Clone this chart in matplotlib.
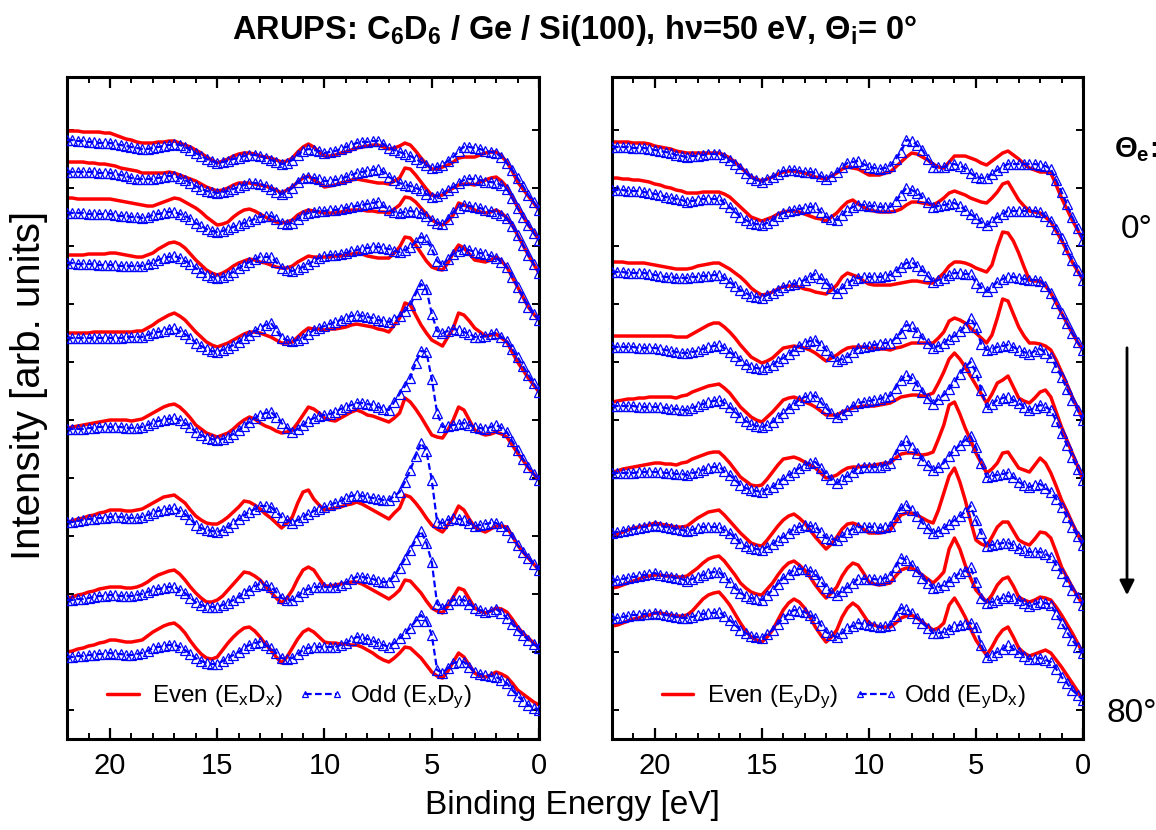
import numpy as np
import matplotlib
matplotlib.use("Agg")
import matplotlib.pyplot as plt
from matplotlib.ticker import MultipleLocator, FixedLocator

plt.rcParams["font.family"] = ["Liberation Sans", "DejaVu Sans"]
plt.rcParams["mathtext.fontset"] = "custom"
plt.rcParams["mathtext.rm"] = "Liberation Sans"
plt.rcParams["mathtext.it"] = "Liberation Sans:italic"
plt.rcParams["mathtext.bf"] = "Liberation Sans:bold"

# Binding energy grid (eV), 0.25 eV steps
binding_energy = [22.0, 21.75, 21.5, 21.25, 21.0, 20.75, 20.5, 20.25,
                  20.0, 19.75, 19.5, 19.25, 19.0, 18.75, 18.5, 18.25,
                  18.0, 17.75, 17.5, 17.25, 17.0, 16.75, 16.5, 16.25,
                  16.0, 15.75, 15.5, 15.25, 15.0, 14.75, 14.5, 14.25,
                  14.0, 13.75, 13.5, 13.25, 13.0, 12.75, 12.5, 12.25,
                  12.0, 11.75, 11.5, 11.25, 11.0, 10.75, 10.5, 10.25,
                  10.0, 9.75, 9.5, 9.25, 9.0, 8.75, 8.5, 8.25,
                  8.0, 7.75, 7.5, 7.25, 7.0, 6.75, 6.5, 6.25,
                  6.0, 5.75, 5.5, 5.25, 5.0, 4.75, 4.5, 4.25,
                  4.0, 3.75, 3.5, 3.25, 3.0, 2.75, 2.5, 2.25,
                  2.0, 1.75, 1.5, 1.25, 1.0, 0.75, 0.5, 0.25,
                  0.0]

# Emission angles, top spectrum to bottom spectrum
emission_angles = [0, 10, 20, 30, 40, 50, 60, 70, 80]

# ---- E_x polarisation: even (ExDx) and odd (ExDy), stacked intensities [arb. units]
exdx_00 = [608,608,608,607,607,607,607,606, 606,604,602,600,599,597,596,596,
           596,597,597,598,598,596,594,592, 589,586,582,579,576,578,580,583,
           585,586,586,585,583,582,581,579, 577,578,581,587,592,595,592,587,
           583,583,584,586,587,589,591,592, 593,594,594,592,590,591,593,596,
           594,588,581,575,570,570,572,574, 577,581,582,582,582,584,586,587,
           587,583,577,568,557,550,543,536, 529]
exdy_00 = [599,599,598,598,597,597,596,596, 596,595,594,593,592,591,590,590,
           591,592,593,594,595,594,592,589, 586,583,580,578,576,577,578,580,
           581,583,584,584,583,581,579,577, 575,576,579,584,588,590,589,588,
           586,587,588,590,592,594,596,597, 597,598,598,595,591,589,587,585,
           583,580,577,574,571,572,574,578, 582,588,592,592,591,590,588,587,
           586,582,576,569,561,553,544,537, 529]
exdx_10 = [577,577,577,577,576,576,575,575, 574,573,571,570,569,568,566,566,
           566,566,566,567,566,564,562,560, 558,555,552,550,548,549,551,554,
           556,556,556,555,554,553,551,549, 546,549,552,557,561,563,559,556,
           552,553,554,556,557,559,560,559, 558,557,556,556,555,558,561,571,
           570,564,557,550,544,543,544,548, 551,554,555,555,554,557,559,561,
           562,558,552,542,532,523,514,507, 499]
exdy_10 = [567,567,567,567,567,567,566,566, 566,565,564,563,561,560,560,560,
           560,561,562,563,563,561,559,556, 553,550,548,547,546,547,548,550,
           552,554,556,556,555,553,550,547, 545,547,551,557,561,562,561,560,
           558,558,559,560,562,564,566,567, 568,569,570,567,562,559,556,554,
           553,551,549,545,542,543,546,549, 552,556,559,560,560,559,557,557,
           556,554,550,541,531,522,514,506, 499]
exdx_20 = [541,541,540,540,540,540,540,540, 540,539,538,537,536,535,534,533,
           533,535,537,539,541,540,537,534, 531,527,522,518,514,515,517,522,
           526,529,530,528,525,522,519,517, 516,517,519,524,527,529,528,527,
           526,526,526,527,528,529,529,529, 528,528,527,527,526,530,534,542,
           541,537,531,525,519,516,514,518, 524,536,534,532,529,527,526,527,
           529,526,521,514,504,494,484,475, 466]
exdy_20 = [526,526,526,526,525,525,525,525, 525,524,523,523,522,522,521,522,
           524,525,526,527,527,525,523,520, 516,513,510,508,507,508,510,512,
           514,516,518,520,522,523,523,520, 516,515,516,520,524,526,527,528,
           528,529,529,530,531,532,533,534, 535,536,537,533,529,527,526,527,
           528,527,526,523,519,516,515,520, 527,531,534,533,532,531,529,528,
           526,524,521,513,504,494,484,475, 466]
exdx_30 = [484,484,484,484,485,485,485,485, 486,486,485,484,483,482,482,484,
           486,490,493,496,497,495,491,485, 479,474,469,466,464,466,469,473,
           476,478,480,479,477,476,474,472, 471,471,473,477,480,483,482,482,
           482,482,483,483,484,485,486,485, 483,482,481,481,481,486,492,502,
           501,494,486,478,472,470,469,476, 486,494,491,485,479,478,477,479,
           482,478,472,462,452,442,432,425, 419]
exdy_30 = [476,476,475,475,475,475,474,474, 474,474,473,473,473,473,473,475,
           476,479,481,482,483,481,478,475, 471,467,464,462,461,462,464,467,
           471,474,477,480,482,482,482,477, 471,469,468,470,472,475,478,481,
           483,484,484,485,486,488,489,490, 491,492,492,491,490,488,487,489,
           492,497,502,500,490,478,474,480, 485,488,490,489,487,486,485,483,
           481,477,472,462,452,442,432,425, 419]
exdx_40 = [406,406,406,406,406,407,407,407, 407,407,407,407,407,408,408,411,
           414,418,421,424,426,423,419,413, 407,402,397,394,392,394,396,399,
           402,405,407,407,406,404,402,399, 396,396,397,402,407,411,410,410,
           409,410,410,411,412,414,415,414, 413,412,410,409,407,414,421,436,
           434,424,414,406,399,396,393,402, 411,426,424,418,411,407,403,404,
           405,401,397,387,377,369,361,354, 347]
exdy_40 = [401,401,401,401,401,401,401,401, 401,401,401,402,402,402,402,404,
           406,407,408,410,411,408,405,401, 396,393,390,388,387,389,391,394,
           397,401,404,408,411,414,416,409, 401,399,398,399,401,405,409,411,
           413,415,417,419,421,423,424,423, 422,421,419,418,417,420,423,428,
           434,445,455,450,425,408,406,408, 410,409,407,405,402,402,403,405,
           406,402,398,390,382,373,364,356, 347]
exdx_50 = [311,312,313,314,315,316,317,318, 319,319,319,319,318,319,320,323,
           326,329,332,334,335,332,327,321, 314,310,306,304,302,304,306,310,
           315,319,322,320,316,313,311,308, 306,307,309,316,324,332,330,326,
           321,319,318,321,324,327,329,327, 324,323,321,319,317,321,326,341,
           337,330,322,313,304,302,301,309, 319,332,329,319,309,306,304,305,
           307,305,302,294,286,279,271,265, 259]
exdy_50 = [310,310,310,310,311,311,312,312, 312,312,312,311,311,311,312,314,
           316,318,319,320,321,319,316,312, 307,304,301,300,299,300,302,305,
           309,313,317,321,324,326,327,322, 316,311,307,310,314,318,321,323,
           324,325,327,330,332,334,336,336, 335,334,332,330,329,337,345,353,
           361,376,388,387,360,326,312,313, 314,315,316,314,312,311,310,312,
           314,311,307,298,289,280,272,265, 259]
exdx_60 = [217,218,220,221,223,224,226,227, 229,229,229,228,228,229,230,233,
           236,239,242,243,244,240,236,229, 223,219,216,215,215,218,222,227,
           232,238,237,234,230,225,221,216, 211,216,222,236,247,249,240,234,
           229,230,231,232,234,235,237,235, 232,229,226,223,220,226,231,244,
           242,236,229,221,214,210,207,214, 222,233,229,220,212,209,207,210,
           213,213,212,203,194,187,181,175, 169]
exdy_60 = [217,217,218,219,220,220,221,221, 222,222,222,221,221,221,222,224,
           226,228,229,230,231,228,225,220, 214,211,209,208,207,209,212,216,
           220,224,227,230,233,233,232,227, 222,219,216,219,222,225,228,230,
           232,234,236,238,241,243,244,243, 242,241,240,239,239,243,247,257,
           269,283,296,288,259,217,216,219, 221,220,219,216,213,214,215,216,
           216,213,209,202,194,187,181,175, 169]
exdx_70 = [141,142,144,145,147,148,150,151, 152,152,152,151,151,152,154,157,
           161,164,166,168,169,165,159,152, 146,141,137,137,139,143,149,155,
           161,167,166,163,159,153,147,141, 136,141,149,160,169,172,169,161,
           153,153,154,155,156,157,157,155, 152,149,146,143,140,144,149,159,
           158,152,146,138,131,128,126,133, 142,151,149,140,131,128,126,128,
           131,130,127,120,112,106,101,96, 91]
exdy_70 = [139,139,140,140,141,142,143,143, 144,144,143,143,143,144,145,147,
           149,150,151,152,152,149,146,141, 137,134,132,132,132,134,136,139,
           142,146,149,153,155,154,152,147, 141,139,139,143,147,150,152,152,
           152,152,152,154,156,160,162,162, 161,160,158,157,157,163,171,180,
           189,199,208,196,177,135,131,135, 139,139,139,135,131,129,127,128,
           130,126,121,115,109,104,99,95, 91]
exdx_80 = [87,88,90,91,93,94,96,97, 99,99,98,97,97,98,99,103,
           107,110,113,115,116,112,106,98, 91,85,81,80,82,89,96,102,
           107,111,112,108,102,95,89,82, 76,82,91,100,107,110,107,102,
           97,96,96,95,95,94,94,92, 89,86,82,79,77,81,86,92,
           91,86,81,74,67,63,61,68, 77,86,82,74,66,63,62,64,
           67,65,62,56,49,45,41,37, 34]
exdy_80 = [82,82,83,83,84,84,85,85, 86,85,85,84,84,85,86,88,
           91,92,93,94,94,92,89,85, 81,78,76,75,75,78,81,84,
           87,91,94,96,97,94,91,86, 81,80,81,85,89,91,92,92,
           92,92,92,94,96,99,102,101, 100,98,96,94,92,96,101,106,
           111,118,124,118,104,69,66,71, 76,77,77,72,67,65,64,63,
           62,59,56,49,43,38,34,31, 29]

# ---- E_y polarisation: even (EyDy) and odd (EyDx), stacked intensities [arb. units]
eydy_00 = [597,597,597,597,596,596,596,595, 593,592,591,590,588,587,586,586,
           586,586,586,586,586,584,581,577, 572,567,562,560,558,560,562,565,
           567,568,568,567,566,564,562,561, 560,563,566,570,572,571,570,567,
           564,564,564,566,567,572,577,582, 586,585,582,579,575,572,571,577,
           583,583,583,581,579,576,574,578, 582,586,588,584,580,575,571,569,
           567,567,566,554,541,530,519,509, 499]
eydx_00 = [592,592,592,592,591,591,591,590, 589,588,587,586,584,583,582,583,
           583,584,585,585,585,582,579,575, 571,566,561,559,557,560,562,565,
           568,569,569,568,567,567,566,563, 560,563,567,572,576,577,578,575,
           572,571,570,571,573,580,587,599, 598,594,589,580,572,572,572,574,
           575,573,571,566,562,561,561,565, 569,572,575,575,575,575,575,575,
           574,573,570,559,547,535,522,511, 499]
eydy_10 = [561,561,560,560,559,559,558,557, 555,554,552,551,549,548,546,546,
           546,547,547,547,547,545,542,537, 532,527,522,520,518,520,522,525,
           527,528,528,527,525,523,521,520, 518,522,526,532,537,539,535,532,
           529,528,527,527,527,528,530,534, 537,537,536,535,534,537,541,546,
           548,546,544,541,539,537,536,541, 547,555,557,548,539,533,528,527,
           526,522,517,508,499,488,477,468, 459]
eydx_10 = [549,549,549,548,548,548,547,546, 545,544,542,541,540,539,537,538,
           539,540,540,540,540,536,532,527, 522,519,516,515,514,516,519,523,
           526,528,529,530,531,532,532,527, 522,520,519,524,529,532,534,534,
           533,533,532,532,532,538,544,551, 549,546,542,537,532,533,534,535,
           536,533,529,525,521,517,514,518, 522,525,528,528,528,528,528,528,
           527,523,518,510,501,490,479,469, 459]
eydy_20 = [477,477,477,476,476,476,476,475, 474,473,472,471,470,470,470,471,
           473,474,475,476,476,473,470,466, 462,457,451,447,444,445,447,450,
           452,453,453,452,450,449,447,446, 445,449,454,462,466,464,462,458,
           455,454,454,454,454,455,456,457, 458,458,457,456,456,461,466,473,
           477,477,476,474,471,469,467,474, 492,507,506,498,486,472,459,458,
           458,453,446,436,426,416,406,397, 389]
eydx_20 = [467,467,467,466,466,466,466,465, 464,463,462,462,461,461,461,462,
           462,463,463,464,464,461,457,453, 449,446,443,442,441,444,446,449,
           452,454,455,457,459,462,465,461, 456,451,446,451,456,459,461,462,
           462,462,462,463,464,468,472,476, 477,473,469,463,457,459,461,464,
           466,466,465,465,456,452,448,452, 457,460,462,462,461,460,459,459,
           458,453,446,436,426,416,406,397, 389]
eydy_30 = [403,403,403,403,403,403,403,403, 403,403,403,403,402,402,402,405,
           408,411,414,416,416,412,407,401, 394,388,382,379,376,378,381,386,
           391,392,393,392,391,389,386,382, 378,381,384,388,391,392,392,392,
           391,391,390,390,389,391,392,394, 396,396,396,396,396,401,407,418,
           421,419,416,411,406,401,396,404, 421,440,438,425,412,403,396,396,
           395,393,389,379,367,355,342,331, 319]
eydx_30 = [392,392,392,392,392,391,391,391, 391,390,389,388,387,386,386,387,
           388,390,392,393,394,391,387,383, 379,375,372,371,370,372,374,378,
           381,385,389,393,396,398,399,394, 389,383,378,380,382,387,391,392,
           393,394,395,396,396,401,406,414, 413,407,401,396,391,393,396,400,
           403,408,412,421,412,395,389,390, 392,393,394,392,389,387,385,388,
           390,386,382,372,362,350,339,329, 319]
eydy_40 = [337,338,339,340,340,341,341,342, 342,342,342,342,341,343,344,347,
           349,351,353,354,355,351,346,339, 332,327,322,319,317,322,327,333,
           339,341,342,340,337,335,332,328, 324,324,324,327,329,331,332,333,
           333,333,334,335,336,339,342,343, 344,344,343,344,346,356,367,380,
           386,380,372,363,354,345,336,345, 356,359,363,352,341,338,336,341,
           347,349,342,327,312,299,286,273, 259]
eydx_40 = [333,333,333,333,333,332,332,332, 332,332,331,330,330,329,329,331,
           333,335,337,338,339,336,332,327, 322,318,315,313,312,314,317,322,
           326,331,335,339,342,343,343,337, 331,326,322,325,329,333,336,337,
           338,339,340,342,343,351,359,364, 361,354,347,341,335,340,344,350,
           357,365,372,377,367,349,332,335, 339,341,342,339,336,332,329,331,
           334,332,329,318,306,294,282,270, 259]
eydy_50 = [267,268,270,271,272,273,274,275, 276,276,275,275,274,276,277,280,
           282,284,286,287,287,282,276,269, 262,258,254,253,254,260,267,274,
           280,281,282,280,277,274,271,266, 261,262,264,268,271,272,272,273,
           273,274,275,276,276,281,285,286, 286,285,284,285,287,300,314,334,
           337,325,311,299,286,276,266,270, 276,286,287,279,271,269,267,274,
           281,276,266,253,239,228,216,205, 194]
eydx_50 = [266,266,266,266,266,267,267,267, 267,267,266,266,265,265,264,266,
           267,269,271,272,272,268,264,259, 254,251,249,248,247,250,252,256,
           260,264,267,271,274,276,277,271, 264,260,256,260,263,267,271,272,
           272,272,272,274,276,285,294,299, 292,286,279,274,269,272,276,283,
           289,294,299,303,292,276,262,263, 264,265,266,262,257,254,252,254,
           255,251,247,240,232,222,212,203, 194]
eydy_60 = [204,205,207,209,211,212,213,214, 216,215,214,213,212,212,213,217,
           221,224,227,228,229,224,218,212, 206,201,196,194,193,199,206,213,
           219,223,225,221,216,209,202,196, 190,195,202,210,215,216,214,210,
           206,206,206,207,209,217,224,226, 226,224,221,218,216,229,246,263,
           271,257,239,218,199,195,193,202, 212,217,217,208,199,196,194,200,
           207,206,201,187,172,162,152,143, 134]
eydx_60 = [206,207,208,209,210,211,212,213, 214,213,212,211,210,209,208,209,
           211,212,212,212,212,209,206,201, 196,193,191,190,189,192,195,199,
           202,206,210,212,214,213,212,207, 201,200,199,203,207,210,212,212,
           212,212,211,212,213,222,231,234, 229,223,216,211,206,208,211,215,
           219,223,227,233,219,206,193,194, 195,196,196,194,191,189,187,187,
           187,185,182,174,166,158,149,142, 134]
eydy_70 = [151,152,154,156,158,160,162,163, 164,164,163,163,162,162,163,167,
           171,176,180,182,183,178,171,164, 156,151,147,145,144,150,156,164,
           171,176,178,174,169,162,154,147, 141,146,152,163,171,176,174,166,
           157,155,154,155,156,163,169,171, 171,168,164,160,156,161,167,190,
           201,190,174,161,149,143,137,144, 154,160,162,153,142,139,137,139,
           142,141,139,132,124,115,106,96, 86]
eydx_70 = [159,159,160,161,162,163,164,165, 166,164,163,162,161,160,158,160,
           162,164,166,167,167,162,157,151, 146,143,141,140,139,144,149,155,
           161,165,169,170,170,168,165,158, 151,147,144,148,152,156,160,160,
           160,160,159,161,163,172,181,179, 174,168,161,156,151,152,154,158,
           162,166,168,172,157,141,136,137, 139,141,143,141,139,136,133,135,
           137,136,134,125,116,107,99,92, 86]
eydy_80 = [113,114,116,118,120,121,123,124, 126,126,125,124,123,123,124,128,
           134,140,144,146,147,141,134,125, 116,108,102,99,97,102,109,119,
           129,136,140,137,131,122,112,104, 97,102,109,122,131,136,132,124,
           116,114,112,112,112,116,121,123, 124,121,117,113,109,111,116,134,
           141,132,122,110,99,91,84,92, 102,109,112,102,91,86,83,85,
           87,89,86,79,72,64,56,48, 39]
eydx_80 = [121,121,122,123,124,124,125,125, 126,125,124,123,122,121,121,122,
           124,125,126,126,127,123,119,114, 109,106,103,102,101,105,109,115,
           121,125,129,128,127,124,121,114, 107,104,102,106,111,113,116,115,
           114,113,112,113,114,123,131,130, 126,121,116,111,106,106,107,110,
           113,114,115,116,112,94,82,84, 87,90,94,90,87,83,80,80,
           81,79,77,70,62,56,49,44, 39]

left_even = [exdx_00, exdx_10, exdx_20, exdx_30, exdx_40, exdx_50, exdx_60, exdx_70, exdx_80]
left_odd = [exdy_00, exdy_10, exdy_20, exdy_30, exdy_40, exdy_50, exdy_60, exdy_70, exdy_80]
right_even = [eydy_00, eydy_10, eydy_20, eydy_30, eydy_40, eydy_50, eydy_60, eydy_70, eydy_80]
right_odd = [eydx_00, eydx_10, eydx_20, eydx_30, eydx_40, eydx_50, eydx_60, eydx_70, eydx_80]

legend_left = [r"Even (E$_\mathregular{x}$D$_\mathregular{x}$)",
               r"Odd (E$_\mathregular{x}$D$_\mathregular{y}$)"]
legend_right = [r"Even (E$_\mathregular{y}$D$_\mathregular{y}$)",
                r"Odd (E$_\mathregular{y}$D$_\mathregular{x}$)"]

RED = "#ff0000"
BLUE = "#0000ff"

fig = plt.figure(figsize=(11.56, 8.30), dpi=100)
ax_l = fig.add_axes([0.0580, 0.1096, 0.4083, 0.7976])
ax_r = fig.add_axes([0.5294, 0.1096, 0.4074, 0.7976])


def draw_panel(ax, even_set, odd_set, labels, legend_x):
    e = np.asarray(binding_energy)
    line_even = None
    line_odd = None
    for spec in even_set:
        line_even, = ax.plot(e, spec, color=RED, lw=2.5, solid_joinstyle="round",
                             solid_capstyle="round", zorder=2)
    for spec in odd_set:
        line_odd, = ax.plot(e, spec, color=BLUE, lw=1.6, ls=(0, (3, 1.5)),
                            marker="^", ms=7.6, mfc="none", mec=BLUE, mew=0.9, zorder=3)
    ax.set_xlim(22, 0)
    ax.set_ylim(0, 662)
    ax.xaxis.set_major_locator(MultipleLocator(5))
    ax.xaxis.set_minor_locator(MultipleLocator(1))
    ax.yaxis.set_major_locator(FixedLocator(np.arange(29, 662, 58)))
    ax.tick_params(axis="x", which="major", direction="in", length=8, width=1.6,
                   top=True, labelsize=21, pad=9)
    ax.tick_params(axis="x", which="minor", direction="in", length=4.5, width=1.4, top=True)
    ax.tick_params(axis="y", which="major", direction="in", length=5, width=1.4,
                   right=True, labelleft=False)
    for s in ax.spines.values():
        s.set_linewidth(2.2)
    ax.legend([line_even, line_odd], labels, loc="center left",
              bbox_to_anchor=(legend_x, 0.063), ncol=2, frameon=False,
              fontsize=17.5, handlelength=1.9, handletextpad=0.25, columnspacing=0.6,
              numpoints=2, markerscale=0.65, borderaxespad=0, borderpad=0)


draw_panel(ax_l, left_even, left_odd, legend_left, 0.07)
draw_panel(ax_r, right_even, right_odd, legend_right, 0.09)

fig.text(0.497, 1 - 31 / 830,
         r"ARUPS: C$_\mathbf{6}$D$_\mathbf{6}$ / Ge / Si(100), hν=50 eV, Θ$_\mathbf{i}$= 0°",
         ha="center", va="center", fontsize=23.5, fontweight="bold")
fig.text(29 / 1156, 1 - 385 / 830, "Intensity [arb. units]", rotation=90,
         ha="center", va="center", fontsize=29)
fig.text(572 / 1156, 1 - 805 / 830, "Binding Energy [eV]",
         ha="center", va="center", fontsize=24)

fig.text(1136 / 1156, 1 - 150 / 830, r"Θ$_\mathbf{e}$:", ha="center", va="center",
         fontsize=21, fontweight="bold")
fig.text(1137 / 1156, 1 - 230 / 830, "0°", ha="center", va="center", fontsize=24)
fig.text(1132 / 1156, 1 - 713 / 830, "80°", ha="center", va="center", fontsize=24)
ax_r.annotate("", xy=(1127 / 1156, 1 - 598 / 830), xytext=(1127 / 1156, 1 - 345 / 830),
              xycoords="figure fraction", textcoords="figure fraction",
              arrowprops=dict(arrowstyle="-|>", lw=2, color="black", mutation_scale=22),
              annotation_clip=False)

fig.savefig("out.png", dpi=100)
